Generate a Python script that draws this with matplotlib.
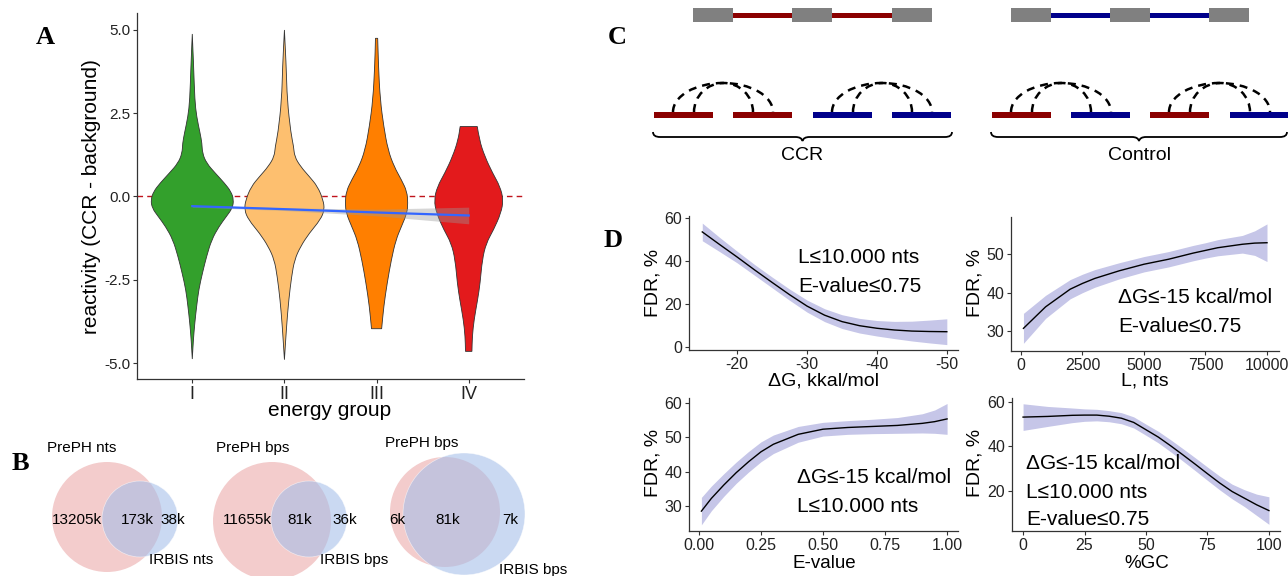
import matplotlib
matplotlib.use('Agg')
import matplotlib.pyplot as plt
from matplotlib.patches import Circle, Rectangle, Arc, PathPatch
from matplotlib.path import Path

plt.rcParams['font.family'] = ['Liberation Sans', 'DejaVu Sans']
plt.rcParams['axes.unicode_minus'] = False

W, H = 1288, 576

# ---------------- panel A: violin profiles (y level, half width) ----------------
groups = ['I', 'II', 'III', 'IV']
violin_colors = ['#33a02c', '#fdbf6f', '#ff7f00', '#e31a1c']
g1_y = [4.88, 3.9, 2.9, 2.4, 1.9, 1.6, 1.3, 1.0, 0.7, 0.4, 0.15, -0.1, -0.35, -0.6, -0.9,
        -1.3, -1.8, -2.3, -2.8, -3.3, -3.8, -4.3, -4.88]
g1_w = [0.0, 0.015, 0.027, 0.047, 0.085, 0.105, 0.11, 0.155, 0.25, 0.35, 0.42, 0.45, 0.435,
        0.37, 0.29, 0.21, 0.155, 0.11, 0.07, 0.047, 0.027, 0.012, 0.0]
g2_y = [5.0, 3.9, 2.9, 1.9, 1.5, 1.2, 0.9, 0.6, 0.3, -0.1, -0.4, -0.7, -1.1, -1.5, -1.9,
        -2.4, -3.1, -3.9, -4.9]
g2_w = [0.0, 0.02, 0.03, 0.07, 0.10, 0.11, 0.175, 0.27, 0.36, 0.42, 0.435, 0.39, 0.27,
        0.175, 0.11, 0.078, 0.047, 0.023, 0.0]
g3_y = [4.75, 3.9, 2.9, 2.1, 1.4, 0.9, 0.5, 0.15, -0.2, -0.5, -0.9, -1.3, -1.9, -2.6, -3.3, -3.97]
g3_w = [0.012, 0.02, 0.04, 0.078, 0.124, 0.19, 0.27, 0.33, 0.34, 0.33, 0.27, 0.21, 0.16,
        0.115, 0.078, 0.055]
g4_y = [2.1, 1.7, 1.2, 0.7, 0.3, -0.1, -0.5, -1.0, -1.4, -1.9, -2.6, -3.1, -3.7, -4.2, -4.65]
g4_w = [0.093, 0.115, 0.175, 0.26, 0.34, 0.376, 0.35, 0.27, 0.19, 0.147, 0.124, 0.097,
        0.058, 0.039, 0.035]
violin_y = [g1_y, g2_y, g3_y, g4_y]
violin_w = [g1_w, g2_w, g3_w, g4_w]
trend_fit = [-0.29, -0.38, -0.48, -0.57]
trend_ci = [0.03, 0.04, 0.10, 0.25]

# ---------------- panel B: venn labels ----------------
venn_sets = [('PrePH nts', 'IRBIS nts'), ('PrePH bps', 'IRBIS bps'), ('PrePH bps', 'IRBIS bps')]
venn_counts = [('13205k', '173k', '38k'), ('11655k', '81k', '36k'), ('6k', '81k', '7k')]

# ---------------- panel D: smoothed FDR curves ----------------
dg_x = [-15, -17.5, -20, -22.5, -25, -27.5, -30, -32.5, -35, -37.5, -40, -42.5, -45, -47.5, -50]
dg_fdr = [53.5, 47.6, 41.8, 35.8, 30.0, 24.3, 19.0, 14.8, 11.8, 9.9, 8.7, 7.9, 7.4, 7.2, 7.1]
dg_se = [4.1, 3.3, 2.7, 2.5, 2.5, 2.6, 2.8, 3.0, 3.2, 3.4, 3.6, 4.0, 4.6, 5.3, 6.0]

len_x = [100, 1000, 2000, 2500, 3000, 4000, 5000, 6000, 7000, 7500, 8000, 9000, 9500, 10000]
len_fdr = [30.7, 36.3, 40.9, 42.4, 43.7, 45.7, 47.4, 48.7, 50.3, 51.0, 51.7, 52.6, 52.9, 53.0]
len_se = [3.9, 3.0, 2.5, 2.4, 2.3, 2.1, 2.0, 2.0, 2.0, 2.0, 2.1, 2.3, 3.2, 4.9]

ev_x = [0.01, 0.05, 0.1, 0.15, 0.2, 0.25, 0.3, 0.4, 0.5, 0.6, 0.7, 0.8, 0.9, 0.95, 1.0]
ev_fdr = [28.5, 32.2, 36.1, 39.7, 42.9, 45.8, 48.0, 50.9, 52.4, 52.9, 53.2, 53.5, 54.1, 54.6, 55.4]
ev_se = [4.0, 3.6, 3.3, 3.1, 3.0, 2.9, 2.7, 2.3, 2.0, 2.0, 2.1, 2.3, 2.8, 3.4, 4.5]

gc_x = [0, 10, 20, 25, 30, 35, 40, 45, 50, 55, 60, 65, 70, 75, 80, 85, 90, 95, 100]
gc_fdr = [53.2, 53.5, 54.0, 54.1, 54.1, 53.6, 52.7, 50.8, 47.5, 44.2, 40.3, 36.2, 32.0, 27.7,
          23.5, 19.7, 16.7, 13.7, 11.1]
gc_se = [6.0, 4.5, 3.3, 2.8, 2.6, 2.5, 2.5, 2.5, 2.5, 2.6, 2.7, 2.8, 2.9, 3.0, 3.1, 3.3, 3.8, 4.8, 6.2]

fig = plt.figure(figsize=(W / 100, H / 100), dpi=100)


def px_axes(x0, y0, x1, y1):
    return fig.add_axes([x0 / W, 1 - y1 / H, (x1 - x0) / W, (y1 - y0) / H])


def ptext(x, y, s, **kw):
    fig.text(x / W, 1 - y / H, s, **kw)


def style_axes(ax, size):
    for side in ('top', 'right'):
        ax.spines[side].set_visible(False)
    for side in ('left', 'bottom'):
        ax.spines[side].set_color('#333333')
        ax.spines[side].set_linewidth(0.9)
    ax.tick_params(length=3, width=0.8, color='#333333', labelsize=size, pad=2, labelcolor='#222222')


def smooth_outline(pts, flat):
    # quadratic bezier through midpoints so the violin edge is drawn smoothly
    verts = [pts[0]]
    codes = [Path.MOVETO]
    for i in range(1, len(pts) - 1):
        mid = ((pts[i][0] + pts[i + 1][0]) / 2, (pts[i][1] + pts[i + 1][1]) / 2)
        verts += [pts[i], mid]
        if i in flat:
            codes += [Path.LINETO, Path.LINETO]
        else:
            codes += [Path.CURVE3, Path.CURVE3]
    verts += [pts[-1], pts[0]]
    codes += [Path.LINETO, Path.CLOSEPOLY]
    return Path(verts, codes)


# overlay in pixel units for panels B and C
ov = fig.add_axes([0, 0, 1, 1])
ov.set_xlim(0, W)
ov.set_ylim(H, 0)
ov.axis('off')

# ---------------- panel A ----------------
axA = px_axes(137, 13, 524, 379)
style_axes(axA, 11)
axA.axhline(0, color='#c0141c', ls=(0, (4, 3)), lw=1, zorder=1)
for i in range(4):
    c = i + 1
    ys, ws = violin_y[i], violin_w[i]
    right = [(c + w, y) for y, w in zip(ys, ws)]
    left = [(c - w, y) for y, w in zip(ys[::-1], ws[::-1])]
    pts = right + left
    n = len(ys)
    flat = {n - 1, n, 2 * n - 1} if ws[-1] > 0 else set()
    if ws[0] > 0:
        flat |= {0}
    axA.add_patch(PathPatch(smooth_outline(pts, flat), facecolor=violin_colors[i],
                            edgecolor='#333333', lw=0.6, zorder=2))
xs = [1, 2, 3, 4]
axA.fill_between(xs, [f - e for f, e in zip(trend_fit, trend_ci)],
                 [f + e for f, e in zip(trend_fit, trend_ci)], color='#999999', alpha=0.4,
                 lw=0, zorder=3)
axA.plot(xs, trend_fit, color='#3366ff', lw=1.6, zorder=4)
axA.set_xlim(0.4, 4.6)
axA.set_ylim(-5.48, 5.51)
axA.set_xticks(xs)
axA.set_xticklabels(groups, fontsize=13)
axA.set_yticks([-5, -2.5, 0, 2.5, 5])
axA.set_yticklabels(['-5.0', '-2.5', '0.0', '2.5', '5.0'])
ptext(92, 197, 'reactivity (CCR - background)', rotation=90, ha='center', va='center', fontsize=15)
ptext(330, 411, 'energy group', ha='center', va='center', fontsize=15)

# ---------------- panel B ----------------
pink = '#f3cccc'
blue = '#a4bee9'
venn_geom = [((107, 517, 55), (140, 519, 38)),
             ((272, 521, 59), (309, 519, 38)),
             ((445, 512, 55), (464, 514, 61))]
title_pos = [((82, 448), (181, 560)), ((253, 448), (354, 560)), ((422, 443), (533, 570))]
count_x = [(77, 137, 173), (247, 300, 345), (397, 448, 510)]
count_y = [520, 520, 520]
for k in range(3):
    (px_, py_, pr), (bx, by, br) = venn_geom[k]
    ov.add_patch(Circle((px_, py_), pr, facecolor=pink, edgecolor='none'))
    ov.add_patch(Circle((bx, by), br, facecolor=blue, alpha=0.58, edgecolor='white', lw=0.5))
    (t1x, t1y), (t2x, t2y) = title_pos[k]
    ov.text(t1x, t1y, venn_sets[k][0], ha='center', va='center', fontsize=11)
    ov.text(t2x, t2y, venn_sets[k][1], ha='center', va='center', fontsize=11)
    for j in range(3):
        ov.text(count_x[k][j], count_y[k], venn_counts[k][j], ha='center', va='center', fontsize=11)

# ---------------- panel C ----------------
red_c = '#8b0000'
blue_c = '#00008b'
gray_c = '#808080'


def exon_row(boxes, color):
    for a, b in zip(boxes[:-1], boxes[1:]):
        ov.add_patch(Rectangle((a + 40, 12.5), b - a - 40, 5, facecolor=color, edgecolor='none'))
    for a in boxes:
        ov.add_patch(Rectangle((a, 8), 40, 14, facecolor=gray_c, edgecolor='none'))


exon_row([693, 792, 892], red_c)
exon_row([1011, 1110, 1209], blue_c)

bars = [(654, red_c), (733, red_c), (813, blue_c), (892, blue_c),
        (992, red_c), (1071, blue_c), (1150, red_c), (1230, blue_c)]
for x0, col in bars:
    ov.add_patch(Rectangle((x0, 112), 59, 5.5, facecolor=col, edgecolor='none'))

for a, b in [(654, 733), (813, 892), (992, 1071), (1150, 1230)]:
    for s, e in [(a + 19, b + 40), (a + 40, b + 20)]:
        ov.add_patch(Arc(((s + e) / 2, 112), e - s, 58, theta1=180, theta2=360,
                         color='black', lw=1.8, ls=(0, (3.2, 2.4))))


def brace(x0, x1, y):
    xm = (x0 + x1) / 2
    verts = [(x0, y - 5), (x0, y), (x0 + 7, y), (xm - 7, y), (xm - 1, y), (xm, y + 4),
             (xm + 1, y), (xm + 7, y), (x1 - 7, y), (x1, y), (x1, y - 5)]
    codes = [Path.MOVETO, Path.CURVE3, Path.CURVE3, Path.LINETO, Path.CURVE3, Path.CURVE3,
             Path.CURVE3, Path.CURVE3, Path.LINETO, Path.CURVE3, Path.CURVE3]
    ov.add_patch(PathPatch(Path(verts, codes), facecolor='none', edgecolor='black', lw=1.3))


brace(653, 952, 137)
brace(991, 1287, 137)
ov.text(802, 155, 'CCR', ha='center', va='center', fontsize=14)
ov.text(1140, 155, 'Control', ha='center', va='center', fontsize=14)

# ---------------- panel D ----------------
band_c = '#c6c6e8'


def fdr_panel(box, x, y, se, xlim, ylim, xticks, yticks, xtl=None):
    ax = px_axes(*box)
    style_axes(ax, 11.5)
    ax.fill_between(x, [a - b for a, b in zip(y, se)], [a + b for a, b in zip(y, se)],
                    color=band_c, lw=0)
    ax.plot(x, y, color='black', lw=1)
    ax.set_xlim(*xlim)
    ax.set_ylim(*ylim)
    ax.set_xticks(xticks)
    ax.set_yticks(yticks)
    if xtl is not None:
        ax.set_xticklabels(xtl)
    return ax


fdr_panel((689, 216, 958, 350), dg_x, dg_fdr, dg_se, (-13.1, -51.6), (-1.4, 60.9),
          [-20, -30, -40, -50], [0, 20, 40, 60])
fdr_panel((1011, 217, 1279, 351), len_x, len_fdr, len_se, (-406, 10488), (24.8, 59.7),
          [0, 2500, 5000, 7500, 10000], [30, 40, 50])
fdr_panel((689, 398, 958, 531), ev_x, ev_fdr, ev_se, (-0.04, 1.044), (22.7, 61.5),
          [0, 0.25, 0.5, 0.75, 1.0], [30, 40, 50, 60], ['0.00', '0.25', '0.50', '0.75', '1.00'])
fdr_panel((1012, 398, 1280, 531), gc_x, gc_fdr, gc_se, (-4.5, 104.5), (1.9, 61.8),
          [0, 25, 50, 75, 100], [20, 40, 60])

for x, y in [(653, 283), (975, 283), (653, 463), (975, 463)]:
    ptext(x, y, 'FDR, %', rotation=90, ha='center', va='center', fontsize=14)
ptext(823, 381, 'ΔG, kkal/mol', ha='center', va='center', fontsize=14)
ptext(1145, 381, 'L, nts', ha='center', va='center', fontsize=14)
ptext(824, 564, 'E-value', ha='center', va='center', fontsize=13.5)
ptext(1147, 564, '%GC', ha='center', va='center', fontsize=13.5)

notes = [(798, [263, 292], ['L≤10.000 nts', 'E-value≤0.75']),
         (1118, [303, 332], ['ΔG≤-15 kcal/mol', 'E-value≤0.75']),
         (797, [483, 512], ['ΔG≤-15 kcal/mol', 'L≤10.000 nts']),
         (1026, [469, 498, 525], ['ΔG≤-15 kcal/mol', 'L≤10.000 nts', 'E-value≤0.75'])]
for x, ys, lines in notes:
    for y, s in zip(ys, lines):
        ptext(x, y, s, ha='left', va='baseline', fontsize=15)

# panel letters
for s, x, y in [('A', 45, 38), ('B', 20, 463), ('C', 617, 38), ('D', 613, 240)]:
    ptext(x, y, s, ha='center', va='center', fontsize=19, fontweight='bold',
          family=['Liberation Serif', 'DejaVu Serif'])

fig.savefig('out.png', dpi=100)
